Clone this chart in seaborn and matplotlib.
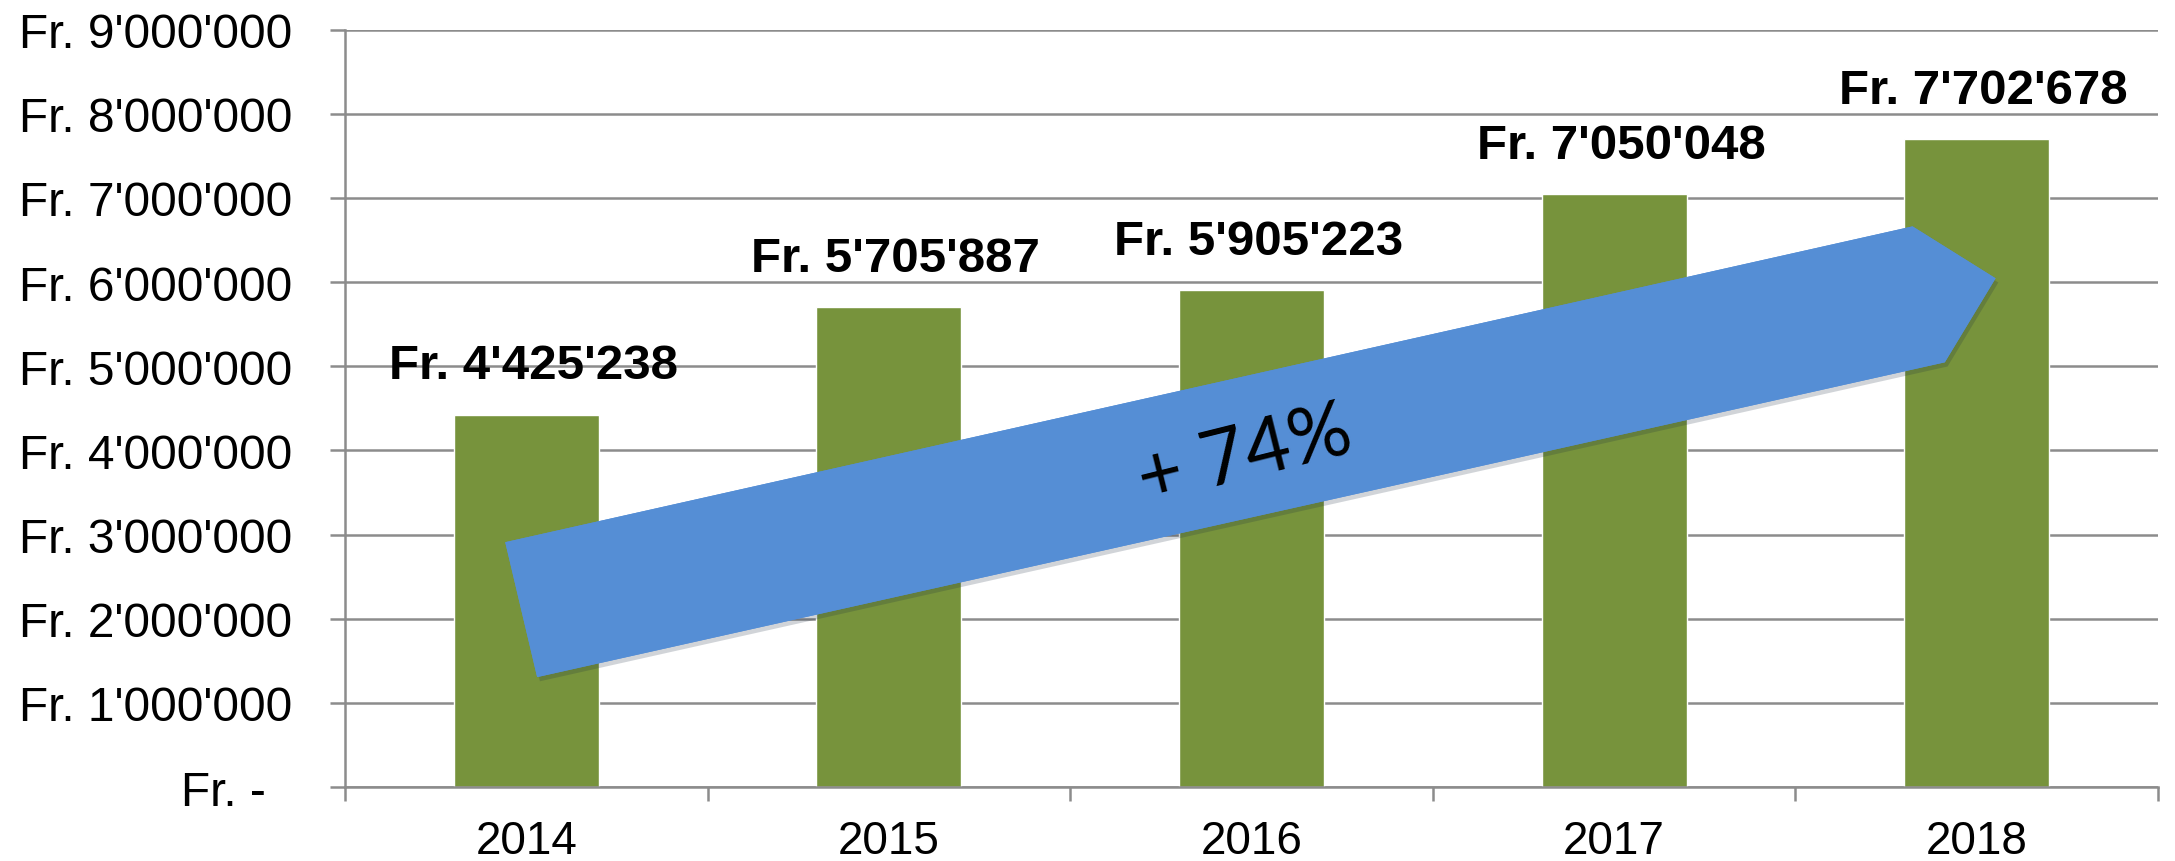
import numpy as np
import pandas as pd
import matplotlib
matplotlib.use('Agg')
import matplotlib.pyplot as plt
import matplotlib.patheffects as pe
from matplotlib.patches import Polygon
from matplotlib.ticker import FuncFormatter, FixedLocator
import seaborn as sns

# Daten
years = ['2014', '2015', '2016', '2017', '2018']
amounts = [4425238, 5705887, 5905223, 7050048, 7702678]
growth_label = '+ 74%'

# Pfeil (in Achsen-Daten: x = Kategorie-Index, y = Fr.)
arrow_x = [-0.058, 3.823, 4.052, 3.912, 0.030]
arrow_y = [2.909e6, 6.661e6, 6.044e6, 5.046e6, 1.306e6]


def fr(v):
    if v == 0:
        return 'Fr. -  '
    return 'Fr. ' + f'{int(v):,}'.replace(',', "'")


sns.set_style('white')
plt.rcParams['font.family'] = ['Liberation Sans', 'DejaVu Sans']
plt.rcParams['text.color'] = 'black'

fig = plt.figure(figsize=(21.75, 8.62), dpi=100)
ax = fig.add_axes([0.1586, 0.0858, 0.8336, 0.8788])

df = pd.DataFrame({'Jahr': years, 'Betrag': amounts})
sns.barplot(data=df, x='Jahr', y='Betrag', color='#77933C', width=0.4,
            saturation=1, ax=ax, zorder=2)

grid_c = '#8C8C8C'
ax.set_xlim(-0.5, 4.5)
ax.set_ylim(0, 9e6)
ax.yaxis.set_major_locator(FixedLocator(np.arange(0, 9e6 + 1, 1e6)))
ax.yaxis.set_major_formatter(FuncFormatter(lambda v, p: fr(v)))
ax.grid(axis='y', color=grid_c, lw=1.8, zorder=0)
ax.set_axisbelow(True)
ax.set_xlabel('')
ax.set_ylabel('')

for s in ['top', 'right']:
    ax.spines[s].set_visible(False)
for s in ['left', 'bottom']:
    ax.spines[s].set_color(grid_c)
    ax.spines[s].set_linewidth(1.8)

ax.tick_params(axis='y', length=11, width=1.8, color=grid_c, pad=27,
               labelsize=34.5, labelcolor='black', left=True)
ax.tick_params(axis='x', which='major', length=0, pad=23, labelsize=33,
               labelcolor='black')
ax.set_xticks(np.arange(-0.5, 5, 1), minor=True)
ax.tick_params(axis='x', which='minor', length=10, width=1.8, color=grid_c,
               bottom=True)

for i, v in enumerate(amounts):
    ax.annotate(fr(v), (i, v), xytext=(5, 35), textcoords='offset points',
                ha='center', va='center', fontsize=35.5, fontweight='bold',
                color='black')

poly = Polygon(np.column_stack([arrow_x, arrow_y]), closed=True,
               facecolor='#558ED5', edgecolor='none', zorder=3,
               path_effects=[pe.withSimplePatchShadow(offset=(2, -3),
                                                      alpha=0.2),
                             pe.Normal()])
ax.add_patch(poly)
ax.text(1.983, 3.93e6, growth_label, rotation=14, ha='center', va='center',
        fontsize=56, family=['Lato', 'DejaVu Sans'], color='black', zorder=4,
        rotation_mode='anchor')

fig.savefig('out.png', dpi=100)
